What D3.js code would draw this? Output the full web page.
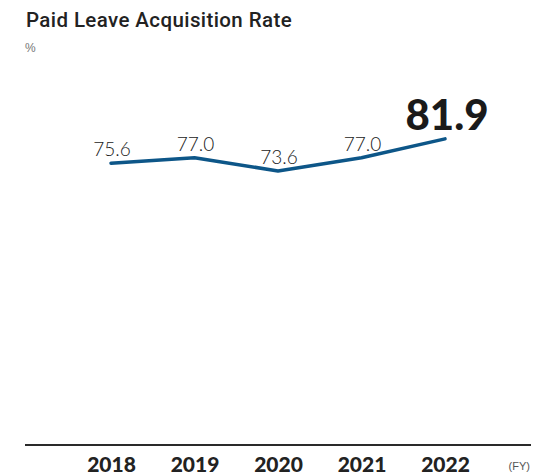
<!DOCTYPE html>
<html>
<head>
<meta charset="utf-8">
<script src="https://cdn.jsdelivr.net/npm/d3@7"></script>
<style>
  html, body { margin: 0; padding: 0; background: #fff; }
  svg { display: block; }
</style>
</head>
<body>
<svg id="chart" width="552" height="475"></svg>
<script>
// Paid leave acquisition rate by fiscal year (%)
const years = ["2018", "2019", "2020", "2021", "2022"];
const rates = [75.6, 77.0, 73.6, 77.0, 81.9];
const rateLabels = ["75.6", "77.0", "73.6", "77.0", "81.9"];

const svg = d3.select("#chart");

const x = d3.scalePoint().domain(years).range([111, 445]);
const y = d3.scaleLinear().domain([0, 100]).range([455, 69]);

const data = years.map((yr, i) => ({ year: yr, value: rates[i], label: rateLabels[i] }));

// Title and unit
svg.append("text")
  .attr("x", 26).attr("y", 27)
  .attr("font-family", "Roboto, 'Liberation Sans', Arial, sans-serif")
  .attr("font-weight", 500)
  .attr("font-size", 20.5)
  .attr("letter-spacing", 0.4)
  .attr("fill", "#222")
  .text("Paid Leave Acquisition Rate");

svg.append("text")
  .attr("x", 25).attr("y", 52)
  .attr("font-family", "'Liberation Sans', Arial, sans-serif")
  .attr("font-size", 12)
  .attr("fill", "#777")
  .text("%");

// Baseline axis with year labels
const axisY = 445;
svg.append("line")
  .attr("x1", 25).attr("x2", 531)
  .attr("y1", axisY).attr("y2", axisY)
  .attr("stroke", "#2a2a2a")
  .attr("stroke-width", 2);

const xAxis = d3.axisBottom(x).tickSize(0).tickPadding(0);
const axisG = svg.append("g")
  .attr("transform", `translate(0,${axisY})`)
  .call(xAxis);
axisG.select(".domain").remove();
axisG.selectAll("text")
  .attr("y", 27)
  .attr("dy", 0)
  .attr("font-family", "Lato, sans-serif")
  .attr("font-weight", 900)
  .attr("font-size", 21)
  .attr("fill", "#222");

svg.append("text")
  .attr("x", 530).attr("y", 470)
  .attr("text-anchor", "end")
  .attr("font-family", "'Liberation Sans', Arial, sans-serif")
  .attr("font-size", 11)
  .attr("fill", "#555")
  .text("(FY)");

// Line
const line = d3.line()
  .x(d => x(d.year))
  .y(d => y(d.value));

svg.append("path")
  .datum(data)
  .attr("d", line)
  .attr("fill", "none")
  .attr("stroke", "#0d5688")
  .attr("stroke-width", 3.5)
  .attr("stroke-linecap", "round")
  .attr("stroke-linejoin", "round");

// Value labels; the latest year is emphasised
const last = data.length - 1;
svg.selectAll(".val")
  .data(data)
  .join("text")
  .attr("class", "val")
  .attr("x", (d, i) => x(d.year) + (i === last ? 2 : 1))
  .attr("y", (d, i) => y(d.value) - (i === last ? 9 : 7))
  .attr("text-anchor", "middle")
  .attr("font-family", "Lato, sans-serif")
  .attr("font-weight", (d, i) => i === last ? 900 : 300)
  .attr("font-size", (d, i) => i === last ? 42 : 19)
  .attr("fill", "#1a1a1a")
  .text(d => d.label);
</script>
</body>
</html>
